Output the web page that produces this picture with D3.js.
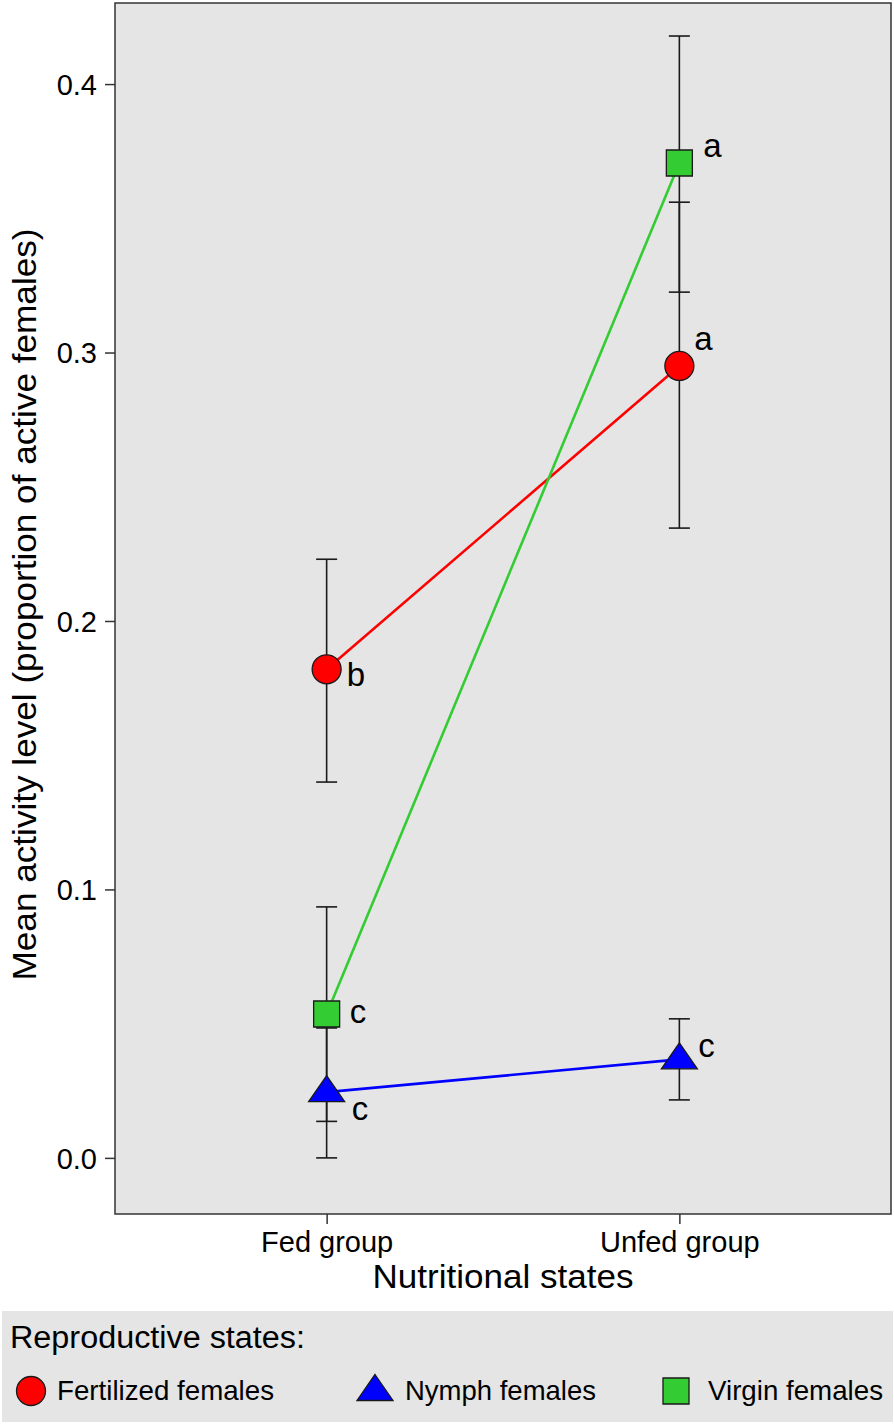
<!DOCTYPE html>
<html><head><meta charset="utf-8">
<script src="https://cdn.jsdelivr.net/npm/d3@7"></script>
<style>body{margin:0;background:#fff}svg{display:block}text{font-family:"Liberation Sans",Arial,sans-serif;fill:#000}</style>
</head><body>
<script>
const groups = ["Fed group", "Unfed group"];
const seriesNames = ["Fertilized females", "Nymph females", "Virgin females"];
const seriesColors = ["#ff0000", "#0000ff", "#33cc33"];
const seriesShapes = ["circle", "triangle", "square"];
const fertMean = [0.182, 0.295];
const fertLow = [0.140, 0.2346];
const fertHigh = [0.223, 0.356];
const fertLetters = ["b", "a"];
const nymphMean = [0.0245, 0.0367];
const nymphLow = [0.0, 0.0216];
const nymphHigh = [0.0484, 0.0518];
const nymphLetters = ["c", "c"];
const virginMean = [0.0536, 0.3706];
const virginLow = [0.0136, 0.3225];
const virginHigh = [0.0935, 0.4179];
const virginLetters = ["c", "a"];
const yTicks = [0.0, 0.1, 0.2, 0.3, 0.4];

const W = 894, H = 1426;
const svg = d3.select("body").append("svg").attr("width", W).attr("height", H);
const P = {l: 115, r: 891, t: 3, b: 1214};
const y = d3.scaleLinear().domain([-0.0209, 0.4302]).range([P.b, P.t]);
const x = d3.scalePoint().domain(groups).range([P.l, P.r]).padding(0.6);

svg.append("rect").attr("x", P.l).attr("y", P.t).attr("width", P.r - P.l).attr("height", P.b - P.t)
  .attr("fill", "#e5e5e5").attr("stroke", "#333").attr("stroke-width", 1.5);

// y axis
const yAx = svg.append("g").attr("transform", `translate(${P.l},0)`)
  .call(d3.axisLeft(y).tickValues(yTicks).tickFormat(d3.format(".1f")).tickSize(10).tickPadding(8));
yAx.select(".domain").remove();
yAx.selectAll("line").attr("stroke", "#333").attr("stroke-width", 1.5);
yAx.selectAll("text").attr("font-size", 29).attr("dy", "0.36em").style("font-family", "Liberation Sans, Arial, sans-serif");

const xAx = svg.append("g").attr("transform", `translate(0,${P.b})`)
  .call(d3.axisBottom(x).tickSize(10).tickPadding(8));
xAx.select(".domain").remove();
xAx.selectAll("line").attr("stroke", "#333").attr("stroke-width", 1.5);
xAx.selectAll("text").attr("font-size", 29).attr("y", 38).attr("dy", null)
  .style("font-family", "Liberation Sans, Arial, sans-serif");

svg.append("text").attr("x", (P.l + P.r) / 2).attr("y", 1288).attr("text-anchor", "middle")
  .attr("font-size", 34).attr("textLength", 261).attr("lengthAdjust", "spacingAndGlyphs").text("Nutritional states");
svg.append("text").attr("transform", `translate(36,${(P.t + P.b) / 2 - 4}) rotate(-90)`).attr("text-anchor", "middle")
  .attr("font-size", 34).attr("textLength", 752).attr("lengthAdjust", "spacingAndGlyphs")
  .text("Mean activity level (proportion of active females)");

const series = [
  {mean: fertMean, low: fertLow, high: fertHigh, letters: fertLetters},
  {mean: nymphMean, low: nymphLow, high: nymphHigh, letters: nymphLetters},
  {mean: virginMean, low: virginLow, high: virginHigh, letters: virginLetters}
].map((s, i) => Object.assign(s, {name: seriesNames[i], color: seriesColors[i], shape: seriesShapes[i]}));

const symbolPath = {
  circle: d3.symbol(d3.symbolCircle, Math.PI * 14.5 * 14.5)(),
  triangle: "M0,-16.5 L18,9.5 L-18,9.5 Z",
  square: d3.symbol(d3.symbolSquare, 26 * 26)()
};

// error bars
const g = svg.append("g");
series.forEach(s => {
  groups.forEach((gname, j) => {
    const cx = x(gname);
    g.append("line").attr("x1", cx).attr("x2", cx).attr("y1", y(s.low[j])).attr("y2", y(s.high[j]))
      .attr("stroke", "#1a1a1a").attr("stroke-width", 1.6);
    [s.low[j], s.high[j]].forEach(v => g.append("line").attr("x1", cx - 10.5).attr("x2", cx + 10.5)
      .attr("y1", y(v)).attr("y2", y(v)).attr("stroke", "#1a1a1a").attr("stroke-width", 1.6));
  });
});
// lines
series.forEach(s => {
  g.append("path").datum(groups.map((gn, j) => [x(gn), y(s.mean[j])]))
    .attr("d", d3.line()).attr("fill", "none").attr("stroke", s.color).attr("stroke-width", 2.6);
});
// points
series.forEach(s => {
  groups.forEach((gn, j) => {
    g.append("path").attr("d", symbolPath[s.shape]).attr("transform", `translate(${x(gn)},${y(s.mean[j])})`)
      .attr("fill", s.color).attr("stroke", "#1a1a1a").attr("stroke-width", 1.3);
  });
});
// letters
const letterOff = [[[20, 17], [15, -16]], [[25, 28], [19, -2]], [[23, 9], [24, -6]]];
series.forEach((s, i) => {
  groups.forEach((gn, j) => {
    svg.append("text").attr("x", x(gn) + letterOff[i][j][0]).attr("y", y(s.mean[j]) + letterOff[i][j][1])
      .attr("font-size", 33).text(s.letters[j]);
  });
});

// legend
svg.append("rect").attr("x", 2).attr("y", 1311).attr("width", W - 3).attr("height", 111).attr("fill", "#e5e5e5");
svg.append("text").attr("x", 10).attr("y", 1348).attr("font-size", 31)
  .attr("textLength", 295).attr("lengthAdjust", "spacingAndGlyphs").text("Reproductive states:");
const legSym = [31, 375, 676];
const legText = [57, 405, 708];
const legLen = [217, 191, 175];
series.forEach((s, i) => {
  svg.append("path").attr("d", symbolPath[s.shape]).attr("transform", `translate(${legSym[i]},1391)`)
    .attr("fill", s.color).attr("stroke", "#1a1a1a").attr("stroke-width", 1.3);
  svg.append("text").attr("x", legText[i]).attr("y", 1400).attr("font-size", 28)
    .attr("textLength", legLen[i]).attr("lengthAdjust", "spacingAndGlyphs").text(s.name);
});
</script>
</body></html>
